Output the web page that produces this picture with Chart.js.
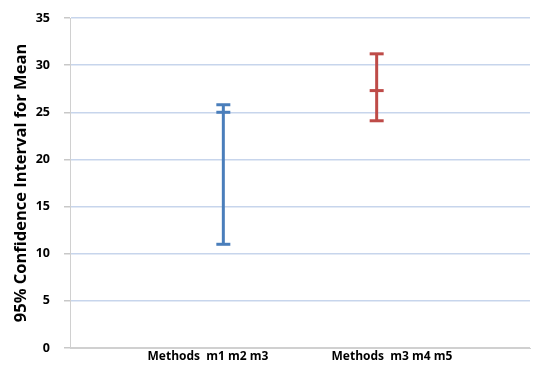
<!DOCTYPE html>
<html>
<head>
<meta charset="utf-8">
<script src="https://cdn.jsdelivr.net/npm/chart.js@4"></script>
<style>
  html, body { margin: 0; padding: 0; background: #fff; }
  #wrap { width: 535px; height: 365px; }
</style>
</head>
<body>
<div id="wrap"><canvas id="c" width="535" height="365"></canvas></div>
<script>
// Confidence intervals for the mean score of each method group
const categories = ['Methods  m1 m2 m3', 'Methods  m3 m4 m5'];
const lowerBounds = [11.0, 24.1];
const means = [25.0, 27.3];
const upperBounds = [25.8, 31.2];
const yTicks = [0, 5, 10, 15, 20, 25, 30, 35];
const colors = ['#4a7ebb', '#be4b48'];

// x positions of the intervals and of their category labels
const groupX = [1, 2];
const labelX = [0.9, 2.1];

const datasets = categories.map((name, i) => ({
  label: name,
  data: [
    { x: groupX[i], y: lowerBounds[i] },
    { x: groupX[i], y: means[i] },
    { x: groupX[i], y: upperBounds[i] }
  ],
  showLine: true,
  borderColor: colors[i],
  backgroundColor: colors[i],
  borderWidth: 3,
  pointStyle: 'line',
  pointRadius: 7,
  pointHoverRadius: 7,
  pointBorderWidth: 3,
  pointBorderColor: colors[i]
}));

new Chart(document.getElementById('c'), {
  type: 'scatter',
  data: { datasets },
  options: {
    responsive: false,
    animation: false,
    layout: { autoPadding: false, padding: { top: 18, right: 5, bottom: 0, left: 0 } },
    plugins: { legend: { display: false }, tooltip: { enabled: false } },
    scales: {
      x: {
        type: 'linear',
        min: 0,
        max: 3,
        afterBuildTicks: (axis) => {
          axis.ticks = labelX.map(v => ({ value: v }));
        },
        afterFit: (axis) => {
          axis.height = 17;
          axis.paddingLeft = 0;
          axis.paddingRight = 0;
        },
        ticks: {
          autoSkip: false,
          maxRotation: 0,
          padding: 1,
          color: '#000',
          font: { family: 'Open Sans', weight: 'bold', size: 12 },
          callback: (v) => {
            const k = labelX.indexOf(v);
            return k >= 0 ? categories[k] : '';
          }
        },
        grid: { display: false, drawTicks: false },
        border: { display: true, color: '#d0d0d0', width: 1 }
      },
      y: {
        min: 0,
        max: 35,
        afterBuildTicks: (axis) => {
          axis.ticks = yTicks.map(v => ({ value: v }));
        },
        afterFit: (axis) => {
          axis.width = 70;
          axis.paddingTop = 0;
          axis.paddingBottom = 0;
        },
        ticks: {
          color: '#000',
          padding: 14,
          font: { family: 'Open Sans', weight: 'bold', size: 12.5 },
          callback: (v) => String(v)
        },
        grid: {
          color: (ctx) => ctx.tick && ctx.tick.value === 0 ? '#d0d0d0' : '#c7d5ec',
          lineWidth: 1.5,
          tickLength: 6,
          tickColor: '#c8c8c8'
        },
        border: { display: true, color: '#d0d0d0', width: 1 },
        title: {
          display: true,
          text: '95% Confidence Interval for Mean',
          color: '#000',
          padding: { top: 11, bottom: 0 },
          font: { family: 'Open Sans', weight: 'bold', size: 16.5 }
        }
      }
    }
  }
});
</script>
</body>
</html>
